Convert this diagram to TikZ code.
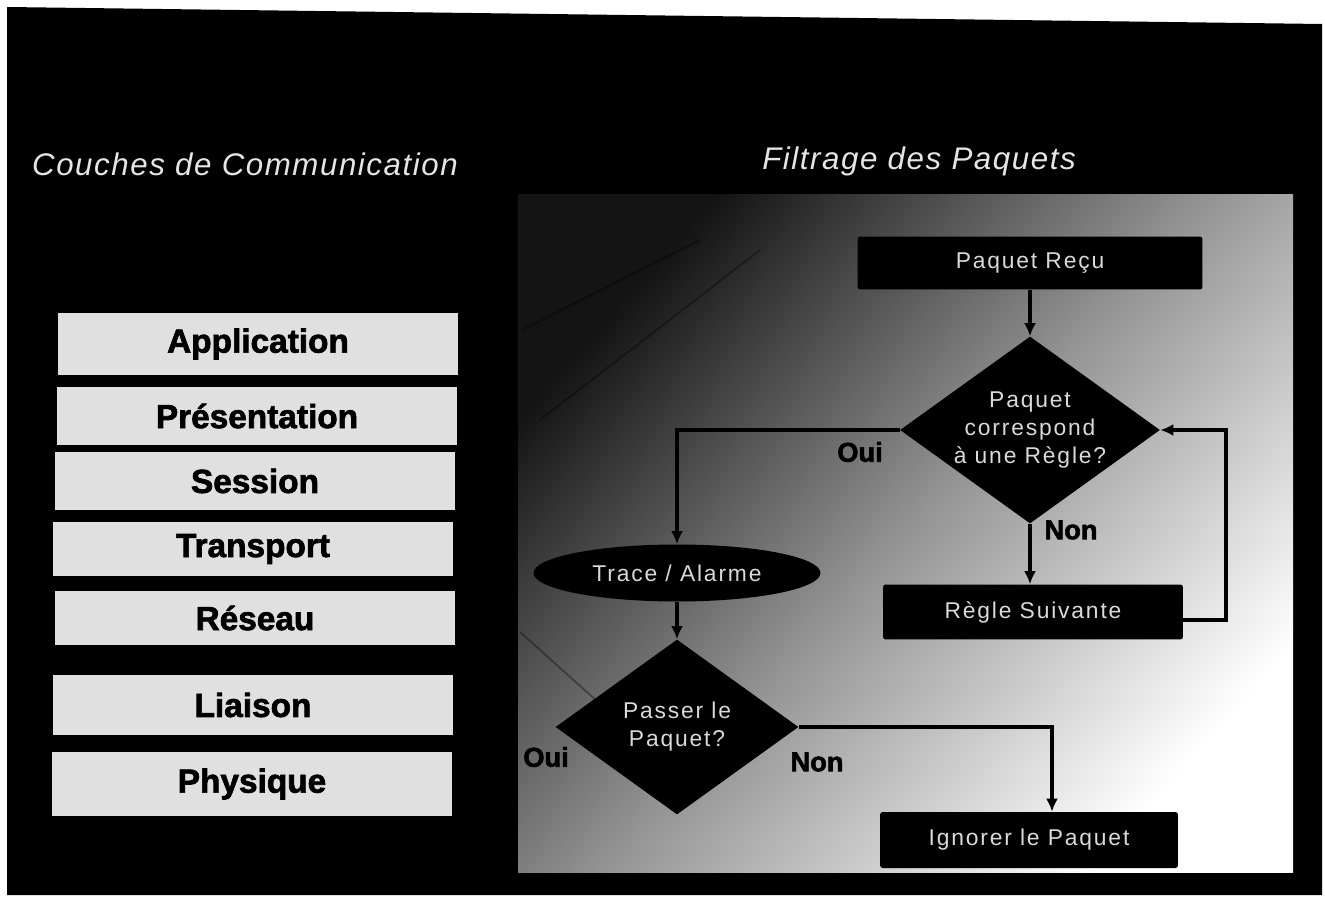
\documentclass[tikz,border=0pt]{standalone}
\usepackage{fontspec}
\setmainfont{Liberation Sans}
\newfontfamily\titlefont[LetterSpace=5]{Liberation Sans}
\newfontfamily\flowfont[LetterSpace=8]{Liberation Sans}
\newfontfamily\heavyfont[FakeBold=2]{Liberation Sans Bold}
\usetikzlibrary{shapes.geometric,arrows.meta}

\begin{document}
\begin{tikzpicture}[x=0.02cm,y=-0.02cm,
  titletext/.style={anchor=base, inner sep=0pt, text=white!90!black,
    font=\titlefont\itshape\fontsize{17.8}{20}\selectfont},
  layer/.style={rectangle, fill=white!88!black, minimum width=8cm,
    minimum height=1.16cm, inner sep=0pt, text=black,
    font=\heavyfont\fontsize{19}{21}\selectfont},
  blackbox/.style={rectangle, rounded corners=1.5pt, fill=black, inner sep=0pt,
    text=white!85!black, font=\flowfont\fontsize{13}{15}\selectfont},
  decision/.style={diamond, fill=black, inner sep=0pt},
  dtext/.style={align=center, inner sep=0pt, text=white!85!black,
    font=\flowfont\fontsize{13}{16}\selectfont},
  answer/.style={inner sep=0pt, text=black, font=\heavyfont\fontsize{15.5}{17}\selectfont},
  link/.style={draw=black, line width=2pt},
  arr/.style={link, -{Latex[length=2.6mm,width=2.4mm]}},
]
% page and slide
\useasboundingbox (0,0) rectangle (1325,915);
\fill[white] (0,0) rectangle (1325,915);
\fill[black] (7,7) -- (1322,24) -- (1322,895) -- (7,895) -- cycle;

% shaded panel behind the flowchart
\shade[top color=black!92, bottom color=white, middle color=black!42, shading angle=48]
  (518,195) rectangle (1293,872);
\begin{scope}[black, line width=1pt, opacity=0.35]
  \draw (520,632) -- (598,702);
  \draw (522,330) -- (700,240);
  \draw (540,420) -- (760,250);
\end{scope}

% titles
\node[titletext] (ltitle) at (245,176) {Couches de Communication};
\node[titletext] (rtitle) at (919,170) {Filtrage des Paquets};

% communication layers
\node[layer, minimum height=1.26cm] (app)  at (258,344) {Application};
\node[layer] (pres) at (257,416) {Présentation};
\node[layer] (sess) at (255,481) {Session};
\node[layer, minimum height=1.08cm] (trans) at (253,549) {Transport};
\node[layer, minimum height=1.1cm] (res)  at (255,618) {Réseau};
\node[layer, minimum height=1.2cm] (liai) at (253,705) {Liaison};
\node[layer, minimum height=1.28cm] (phys) at (252,784) {Physique};

% packet filtering flowchart
\node[blackbox, minimum width=6.9cm, minimum height=1.06cm] (recu) at (1030,263) {Paquet Reçu};
\node[decision, minimum width=5.2cm, minimum height=3.74cm] (match) at (1030,430) {};
\node[dtext] at (match) {Paquet\\correspond\\à une Règle?};
\node[blackbox, minimum width=6cm, minimum height=1.1cm] (next) at (1033,612) {Règle Suivante};
\node[ellipse, fill=black, inner sep=0pt, minimum width=5.74cm, minimum height=1.14cm,
  text=white!85!black, font=\flowfont\fontsize{13}{15}\selectfont] (trace) at (677,573) {Trace / Alarme};
\node[decision, minimum width=4.86cm, minimum height=3.5cm] (pass) at (677,727) {};
\node[dtext] at (pass) {Passer le\\Paquet?};
\node[blackbox, minimum width=5.96cm, minimum height=1.12cm] (drop) at (1029,840) {Ignorer le Paquet};

% answers
\node[answer] (oui1) at (860,452) {Oui};
\node[answer] (non1) at (1071,530) {Non};
\node[answer] (oui2) at (546,757) {Oui};
\node[answer] (non2) at (817,762) {Non};

% connectors
\coordinate (loop) at (1226,620);
\draw[arr] (recu.south) -- (match.north);
\draw[arr] (match.west) -| (trace.north);
\draw[arr] (trace.south) -- (pass.north);
\draw[arr] (match.south) -- (next.north -| match.south);
\draw[arr] (next.east |- loop) -- (loop) |- (match.east);
\draw[arr] (pass.east) -| ([xshift=0.46cm]drop.north);
\end{tikzpicture}
\end{document}
